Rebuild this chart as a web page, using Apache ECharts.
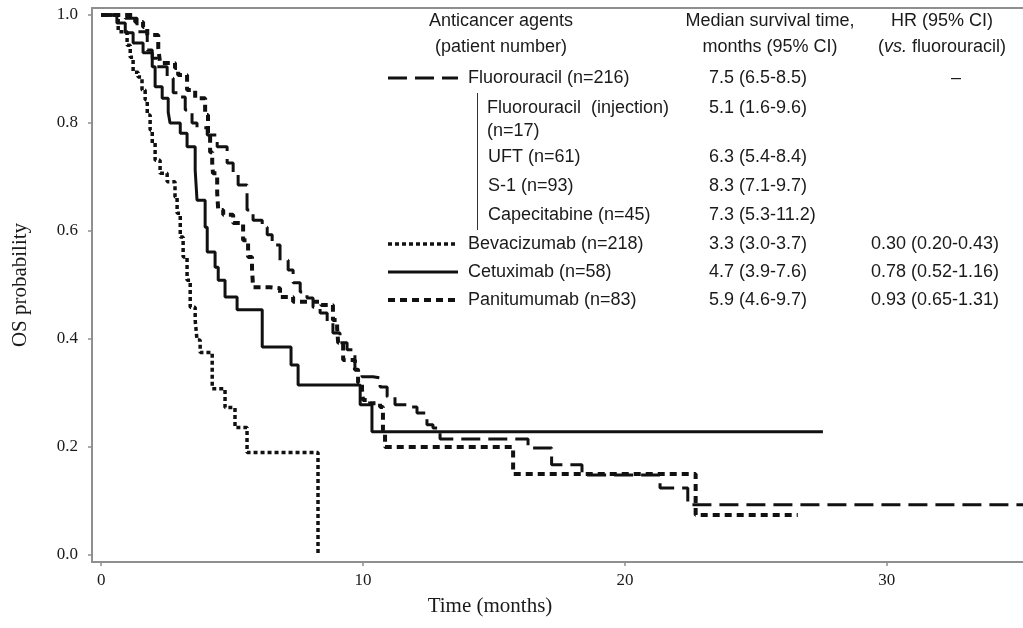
<!DOCTYPE html>
<html>
<head>
<meta charset="utf-8">
<script src="https://cdn.jsdelivr.net/npm/echarts@6/dist/echarts.min.js"></script>
<style>
  html, body { margin: 0; padding: 0; background: #fff; }
  #chart { width: 1023px; height: 628px; }
</style>
</head>
<body>
<div id="chart"></div>
<script>
// Kaplan-Meier estimates (months, survival probability)
var fluorouracilTime = [0, 0.92, 1.37, 1.76, 1.95, 2.14, 2.52, 2.75, 3.02, 3.21, 3.47, 3.66, 4.05, 4.43, 4.81, 5.04, 5.23, 5.57, 5.80, 6.15, 6.34, 6.53, 6.83, 7.14, 7.33, 7.60, 7.86, 8.09, 8.36, 8.63, 8.85, 9.12, 9.39, 9.69, 9.96, 10.38, 10.65, 10.92, 11.22, 11.72, 12.06, 12.44, 12.67, 12.94, 16.3, 17.2, 18.36, 21.34, 22.40, 35.2];
var fluorouracilSurv = [1, 0.994, 0.969, 0.935, 0.920, 0.904, 0.883, 0.856, 0.848, 0.824, 0.800, 0.791, 0.778, 0.756, 0.726, 0.707, 0.685, 0.639, 0.620, 0.607, 0.593, 0.574, 0.546, 0.528, 0.504, 0.487, 0.476, 0.459, 0.448, 0.430, 0.411, 0.393, 0.380, 0.343, 0.330, 0.328, 0.311, 0.293, 0.278, 0.274, 0.263, 0.241, 0.235, 0.215, 0.198, 0.167, 0.148, 0.124, 0.093, 0.093];

var bevacizumabTime = [0, 0.65, 0.99, 1.11, 1.22, 1.41, 1.56, 1.68, 1.76, 1.87, 1.95, 2.06, 2.25, 2.52, 2.82, 2.90, 3.02, 3.13, 3.28, 3.40, 3.59, 3.66, 3.78, 4.24, 4.73, 5.11, 5.57, 8.28];
var bevacizumabSurv = [1, 0.969, 0.944, 0.922, 0.894, 0.885, 0.861, 0.843, 0.815, 0.787, 0.763, 0.731, 0.707, 0.691, 0.663, 0.633, 0.589, 0.552, 0.509, 0.459, 0.435, 0.398, 0.375, 0.308, 0.273, 0.236, 0.190, 0];

var cetuximabTime = [0, 0.6, 0.92, 1.22, 1.60, 1.95, 2.06, 2.33, 2.56, 2.63, 3.02, 3.28, 3.59, 3.66, 3.97, 4.05, 4.35, 4.47, 4.73, 5.19, 6.15, 7.25, 7.52, 9.89, 10.34, 27.56];
var cetuximabSurv = [1, 0.985, 0.967, 0.948, 0.930, 0.904, 0.867, 0.846, 0.820, 0.800, 0.781, 0.756, 0.713, 0.657, 0.607, 0.561, 0.533, 0.509, 0.478, 0.454, 0.385, 0.352, 0.315, 0.278, 0.228, 0.228];

var panitumumabTime = [0, 1.30, 1.60, 1.76, 2.18, 2.25, 2.82, 2.94, 3.28, 3.59, 3.97, 4.08, 4.16, 4.24, 4.27, 4.43, 4.47, 4.66, 5.04, 5.42, 5.61, 5.76, 5.80, 6.45, 6.83, 7.33, 8.4, 8.85, 9.01, 9.05, 9.24, 9.69, 9.81, 9.96, 10.0, 10.27, 10.65, 10.76, 10.84, 15.73, 22.7, 26.6];
var panitumumabSurv = [1, 0.987, 0.978, 0.963, 0.939, 0.911, 0.902, 0.889, 0.861, 0.846, 0.815, 0.778, 0.746, 0.726, 0.707, 0.670, 0.639, 0.630, 0.615, 0.583, 0.552, 0.531, 0.496, 0.494, 0.478, 0.469, 0.463, 0.435, 0.420, 0.393, 0.361, 0.343, 0.319, 0.306, 0.287, 0.281, 0.274, 0.231, 0.200, 0.150, 0.074, 0.074];

var xTicks = [0, 10, 20, 30];
var yTicks = [0, 0.2, 0.4, 0.6, 0.8, 1.0];

// table text
var agentLabels = ['Fluorouracil (n=216)', 'Bevacizumab (n=218)', 'Cetuximab (n=58)', 'Panitumumab (n=83)'];
var subLabels = ['Fluorouracil  (injection)', '(n=17)', 'UFT (n=61)', 'S-1 (n=93)', 'Capecitabine (n=45)'];
var medianLabels = ['7.5 (6.5-8.5)', '5.1 (1.6-9.6)', '6.3 (5.4-8.4)', '8.3 (7.1-9.7)', '7.3 (5.3-11.2)', '3.3 (3.0-3.7)', '4.7 (3.9-7.6)', '5.9 (4.6-9.7)'];
var hrLabels = ['0.30 (0.20-0.43)', '0.78 (0.52-1.16)', '0.93 (0.65-1.31)'];

function zip(t, s) {
    return t.map(function (v, i) { return [v, s[i]]; });
}

// line styles shared by curves and legend samples
var styles = {
    fluorouracil: { width: 3, dash: [19, 8] },
    bevacizumab: { width: 3.5, dash: [4, 3] },
    cetuximab: { width: 3, dash: 'solid' },
    panitumumab: { width: 4, dash: [7, 5] }
};

function kmSeries(name, key, t, s) {
    return {
        name: name,
        type: 'line',
        step: 'end',
        symbol: 'none',
        silent: true,
        data: zip(t, s),
        lineStyle: { color: '#111', width: styles[key].width, type: styles[key].dash }
    };
}

var chart = echarts.init(document.getElementById('chart'));

var txtFont = '"Liberation Sans", Arial, sans-serif';
var txtColor = '#1a1a1a';
var fs = 18;

function txt(x, y, text, align) {
    return {
        type: 'text', x: x, y: y, z: 10,
        style: { text: text, font: fs + 'px ' + txtFont, fill: txtColor, align: align || 'left', verticalAlign: 'middle' }
    };
}

function sample(y, key) {
    var d = styles[key].dash;
    return {
        type: 'line',
        shape: { x1: 388, y1: y, x2: 458, y2: y },
        style: { stroke: '#111', lineWidth: styles[key].width, lineDash: d === 'solid' ? null : d },
        z: 10
    };
}

var rowY = { fluoro: 78, inj: 108, inj2: 131, uft: 157, s1: 186, cape: 215, bev: 244, cet: 272, pani: 300 };

var graphics = [
    txt(501, 21, 'Anticancer agents', 'center'),
    txt(501, 47, '(patient number)', 'center'),
    txt(770, 21, 'Median survival time,', 'center'),
    txt(770, 47, 'months (95% CI)', 'center'),
    txt(942, 21, 'HR (95% CI)', 'center'),
    {
        type: 'text', x: 942, y: 47, z: 10,
        style: {
            text: '({i|vs.} fluorouracil)',
            font: fs + 'px ' + txtFont, fill: txtColor, align: 'center', verticalAlign: 'middle',
            rich: { i: { font: 'italic ' + fs + 'px ' + txtFont, fill: txtColor } }
        }
    },
    sample(rowY.fluoro, 'fluorouracil'),
    sample(rowY.bev, 'bevacizumab'),
    sample(rowY.cet, 'cetuximab'),
    sample(rowY.pani, 'panitumumab'),
    txt(468, rowY.fluoro, agentLabels[0]),
    txt(468, rowY.bev, agentLabels[1]),
    txt(468, rowY.cet, agentLabels[2]),
    txt(468, rowY.pani, agentLabels[3]),
    txt(487, rowY.inj, subLabels[0]),
    txt(487, rowY.inj2, subLabels[1]),
    txt(488, rowY.uft, subLabels[2]),
    txt(488, rowY.s1, subLabels[3]),
    txt(488, rowY.cape, subLabels[4]),
    { type: 'line', shape: { x1: 477.5, y1: 93, x2: 477.5, y2: 230 }, style: { stroke: '#333', lineWidth: 1 }, z: 10 },
    txt(956, rowY.fluoro, '\u2013', 'center'),
    // axis titles
    { type: 'text', x: 490, y: 606, z: 10, style: { text: 'Time (months)', font: '21px "Liberation Serif", "Times New Roman", serif', fill: txtColor, align: 'center', verticalAlign: 'middle' } },
    { type: 'text', x: 20, y: 285, rotation: Math.PI / 2, z: 10, style: { text: 'OS probability', font: '21px "Liberation Serif", "Times New Roman", serif', fill: txtColor, align: 'center', verticalAlign: 'middle' } }
];

var medRows = [rowY.fluoro, rowY.inj, rowY.uft, rowY.s1, rowY.cape, rowY.bev, rowY.cet, rowY.pani];
medianLabels.forEach(function (m, i) { graphics.push(txt(709, medRows[i], m)); });
var hrRows = [rowY.bev, rowY.cet, rowY.pani];
hrLabels.forEach(function (h, i) { graphics.push(txt(871, hrRows[i], h)); });

var axisGray = '#8f8f8f';
var serif = '"Liberation Serif", "Times New Roman", serif';

var option = {
    animation: false,
    backgroundColor: '#fff',
    grid: { left: 92, right: 0, top: 8, bottom: 66, containLabel: false },
    xAxis: [{
        type: 'value',
        min: -0.35,
        max: 35.2,
        axisLine: { show: true, onZero: false, lineStyle: { color: axisGray, width: 2 } },
        axisTick: { show: true, length: 4, customValues: xTicks, lineStyle: { color: axisGray, width: 1.5 } },
        axisLabel: { customValues: xTicks, margin: 10, fontFamily: serif, fontSize: 17, color: txtColor },
        splitLine: { show: false }
    }, {
        type: 'value',
        position: 'top',
        min: -0.35,
        max: 35.2,
        axisLine: { show: true, onZero: false, lineStyle: { color: axisGray, width: 2 } },
        axisTick: { show: false },
        axisLabel: { show: false },
        splitLine: { show: false }
    }],
    yAxis: {
        type: 'value',
        min: -0.013,
        max: 1.013,
        axisLine: { show: true, onZero: false, lineStyle: { color: axisGray, width: 2 } },
        axisTick: { show: true, length: 4, customValues: yTicks, lineStyle: { color: axisGray, width: 1.5 } },
        axisLabel: {
            customValues: yTicks, margin: 14, fontFamily: serif, fontSize: 17, color: txtColor,
            formatter: function (v) { return v.toFixed(1); }
        },
        splitLine: { show: false }
    },
    series: [
        kmSeries('Fluorouracil', 'fluorouracil', fluorouracilTime, fluorouracilSurv),
        kmSeries('Bevacizumab', 'bevacizumab', bevacizumabTime, bevacizumabSurv),
        kmSeries('Cetuximab', 'cetuximab', cetuximabTime, cetuximabSurv),
        kmSeries('Panitumumab', 'panitumumab', panitumumabTime, panitumumabSurv)
    ],
    graphic: graphics
};

chart.setOption(option);
</script>
</body>
</html>
